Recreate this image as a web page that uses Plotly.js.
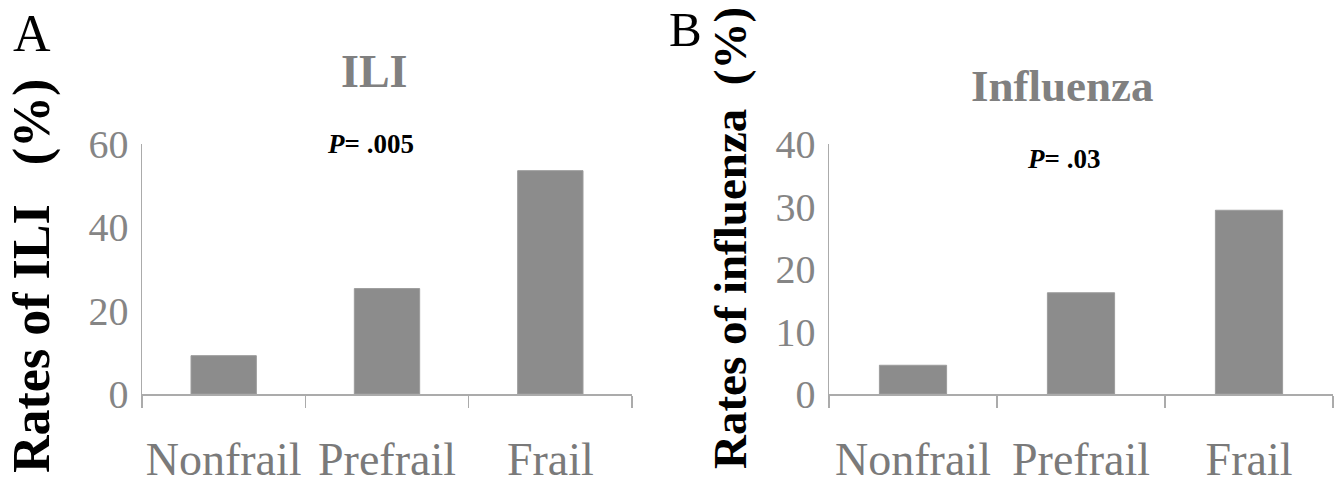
<!DOCTYPE html>
<html>
<head>
<meta charset="utf-8">
<script src="https://cdn.plot.ly/plotly-3.0.1.min.js"></script>
<style>
html,body{margin:0;padding:0;background:#fff;}
#chart{width:1344px;height:487px;}
</style>
</head>
<body>
<div id="chart"></div>
<script>
// Data
const categories = ["Nonfrail", "Prefrail", "Frail"];
const iliRates = [9.2, 25.3, 53.6];
const influenzaRates = [4.6, 16.2, 29.4];
const iliTicks = [0, 20, 40, 60];
const fluTicks = [0, 10, 20, 30, 40];
const panelTitles = ["ILI", "Influenza"];
const panelLetters = ["A", "B"];
const pValues = [".005", ".03"];
const yTitles = ["Rates of ILI   (%)", "Rates of influenza  (%)"];

const W = 1344, H = 487;
const px = v => v / W;
const py = v => 1 - v / H;

const FONT = "Liberation Serif";
const barColor = "#8c8c8c";
const axisColor = "#ababab";
const tickColor = "#7a7a7a";

const traces = [
  {type: "bar", x: categories, y: iliRates, xaxis: "x", yaxis: "y",
   marker: {color: barColor, line: {color: "#9c9c9c", width: 1}}, width: 0.4, hoverinfo: "x+y"},
  {type: "bar", x: categories, y: influenzaRates, xaxis: "x2", yaxis: "y2",
   marker: {color: barColor, line: {color: "#9c9c9c", width: 1}}, width: 0.4, hoverinfo: "x+y"}
];

function xAxis(domain) {
  return {
    domain: domain, type: "category", range: [-0.5, 2.5],
    showline: true, linecolor: axisColor, linewidth: 1.5,
    ticks: "outside", tickson: "boundaries", ticklen: 12, tickcolor: axisColor, tickwidth: 1.5,
    tickfont: {family: FONT, size: 46, color: tickColor},
    tickangle: 0, automargin: false,
    ticklabelstandoff: 24,
    showgrid: false, zeroline: false, fixedrange: true
  };
}
function yAxis(domain, range, tickvals) {
  return {
    domain: domain, range: range, tickvals: tickvals,
    showline: true, linecolor: axisColor, linewidth: 1.5,
    ticks: "", tickfont: {family: FONT, size: 40, color: "#858585"},
    ticklabelstandoff: 4, automargin: false,
    showgrid: false, zeroline: false, fixedrange: true
  };
}

const yDom = [py(394), py(144)];

const annotations = [
  {text: panelLetters[0], x: px(11), y: py(3), xanchor: "left", yanchor: "top",
   font: {family: FONT, size: 52, color: "#000"}},
  {text: panelLetters[1], x: px(667), y: py(0), xanchor: "left", yanchor: "top",
   font: {family: FONT, size: 49, color: "#000"}},
  {text: "<b>" + panelTitles[0] + "</b>", x: px(374), y: py(72), xanchor: "center", yanchor: "middle",
   font: {family: FONT, size: 46, color: "#808080"}},
  {text: "<b>" + panelTitles[1] + "</b>", x: px(1062), y: py(86), xanchor: "center", yanchor: "middle",
   font: {family: FONT, size: 45, color: "#808080"}},
  {text: "<b><i>P</i>= " + pValues[0] + "</b>", x: px(370), y: py(144), xanchor: "center", yanchor: "middle",
   font: {family: FONT, size: 27, color: "#000"}},
  {text: "<b><i>P</i>= " + pValues[1] + "</b>", x: px(1063), y: py(159), xanchor: "center", yanchor: "middle",
   font: {family: FONT, size: 27, color: "#000"}},
  {text: "<b>" + yTitles[0] + "</b>", x: px(32), y: py(276), xanchor: "center", yanchor: "middle", textangle: -90,
   font: {family: FONT, size: 52, color: "#000"}},
  {text: "<b>" + yTitles[1] + "</b>", x: px(730), y: py(238), xanchor: "center", yanchor: "middle", textangle: -90,
   font: {family: FONT, size: 47, color: "#000"}}
].map(a => Object.assign({xref: "paper", yref: "paper", showarrow: false}, a));

const layout = {
  width: W, height: H,
  margin: {l: 0, r: 0, t: 0, b: 0},
  paper_bgcolor: "#fff", plot_bgcolor: "#fff",
  showlegend: false, bargap: 0.6,
  font: {family: FONT},
  xaxis: xAxis([px(142), px(632)]),
  yaxis: yAxis(yDom, [0, 60], iliTicks),
  xaxis2: Object.assign(xAxis([px(829), px(1333)]), {anchor: "y2"}),
  yaxis2: Object.assign(yAxis(yDom, [0, 40], fluTicks), {anchor: "x2"}),
  annotations: annotations
};
layout.xaxis.anchor = "y";
layout.yaxis.anchor = "x";

Plotly.newPlot("chart", traces, layout, {displayModeBar: false, staticPlot: true});
</script>
</body>
</html>
